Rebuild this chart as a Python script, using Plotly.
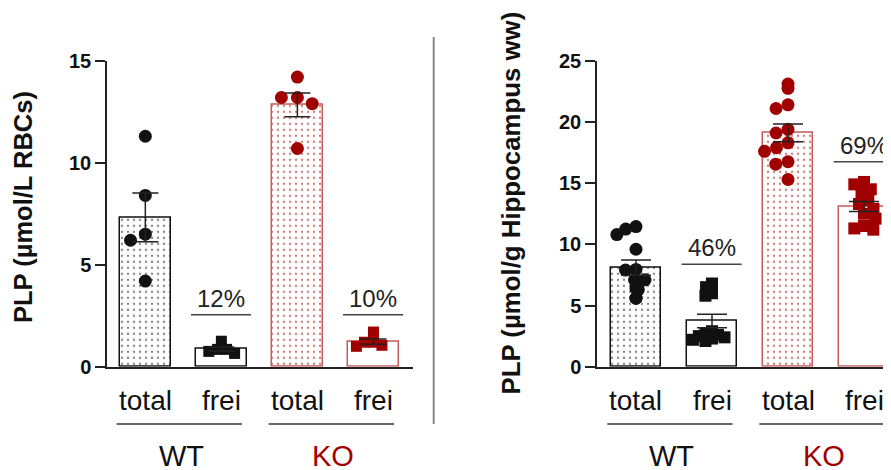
import numpy as np
import plotly.graph_objects as go

# ---------------- data ----------------
categories = ["total", "frei", "total", "frei"]
groups = ["WT", "KO"]

# Left panel: PLP in erythrocytes (µmol/L RBCs)
rbc_wt_total = [11.3, 8.4, 6.5, 6.2, 4.2]
rbc_wt_free = [1.25, 0.85, 0.65, 0.75, 0.85]
rbc_ko_total = [14.2, 13.2, 13.2, 12.9, 10.7]
rbc_ko_free = [1.7, 1.2, 1.0, 1.05, 1.2]
rbc_pct = ["12%", "10%"]
rbc_ticks = [0, 5, 10, 15]

# Right panel: PLP in hippocampus (µmol/g ww)
hip_wt_total = [11.45, 11.25, 10.8, 9.6, 7.95, 7.9, 7.1, 7.1, 6.4, 6.3, 5.6, 5.6]
hip_wt_free = [6.8, 6.5, 6.0, 5.8, 2.9, 2.7, 2.6, 2.5, 2.4, 2.3, 2.2, 2.1]
hip_ko_total = [23.1, 22.75, 21.4, 21.1, 19.4, 19.1, 18.3, 17.9, 17.6, 16.75, 16.55, 15.3]
hip_ko_free = [15.1, 14.9, 14.5, 14.2, 13.6, 13.3, 12.9, 12.5, 12.1, 11.5, 11.3, 11.2]
hip_pct = ["46%", "69%"]
hip_ticks = [0, 5, 10, 15, 20, 25]

# ---------------- style ----------------
PAGE_W, PAGE_H = 891, 470
OFF = 8                      # default page (body) margin of the browser
W, H = PAGE_W - OFF, PAGE_H - OFF
FONT = "Liberation Sans, Arial, Helvetica, sans-serif"
RED = "#a00000"
RED_EDGE = "#c45a5a"
BLACK = "#111111"
PX_PER_CAT = 76.0


def py(p):
    """page pixel row -> paper y"""
    return 1 - (p - OFF) / H


def px(p):
    """page pixel column -> paper x"""
    return (p - OFF) / W


def swarm(values, yscale, d):
    """Simple beeswarm: horizontal pixel offsets so markers do not overlap."""
    vals = np.asarray(values, dtype=float)
    order = np.argsort(-vals, kind="stable")
    placed = []
    offs = np.zeros(len(vals))
    for i in order:
        y = vals[i] * yscale
        cands = [0.0]
        for (qx, qy) in placed:
            dy = abs(qy - y)
            if dy < d:
                dx = np.sqrt(d * d - dy * dy)
                cands += [qx + dx, qx - dx]
        cands = sorted(set(round(c, 6) for c in cands), key=lambda c: (abs(c), c))
        for c in cands:
            if all((c - qx) ** 2 + (y - qy) ** 2 >= d * d - 1e-6 for qx, qy in placed):
                offs[i] = c
                placed.append((c, y))
                break
    return offs


def sem(v):
    v = np.asarray(v, dtype=float)
    return v.std(ddof=1) / np.sqrt(len(v))


fig = go.Figure()
annotations = []
shapes = []


def add_panel(axr, ayr, sets, yscale, pct, pct_y, cap_w, msizes, dists):
    colors = [BLACK, BLACK, RED, RED]
    edges = [BLACK, BLACK, RED_EDGE, RED_EDGE]
    symbols = ["circle", "square", "circle", "square"]
    means = [float(np.mean(s)) for s in sets]
    # bars
    for i, s in enumerate(sets):
        patterned = (i % 2 == 0)
        marker = dict(color="white", line=dict(color=edges[i], width=1.5))
        if patterned:
            marker["pattern"] = dict(shape=".", fgcolor=colors[i], bgcolor="white",
                                     size=6, solidity=0.12)
        fig.add_trace(go.Bar(x=[i], y=[means[i]], width=0.67, marker=marker,
                             xaxis=axr, yaxis=ayr, showlegend=False,
                             hoverinfo="skip"))
    # points
    for i, s in enumerate(sets):
        offs = swarm(s, yscale, dists[i]) / PX_PER_CAT
        fig.add_trace(go.Scatter(x=i + offs, y=s, mode="markers",
                                 marker=dict(symbol=symbols[i], size=msizes[i],
                                             color=colors[i], line=dict(width=0)),
                                 xaxis=axr, yaxis=ayr, showlegend=False,
                                 cliponaxis=False))
    # error bars (SEM)
    for i, s in enumerate(sets):
        fig.add_trace(go.Scatter(x=[i], y=[means[i]], mode="markers",
                                 marker=dict(size=1, opacity=0),
                                 error_y=dict(type="data", array=[sem(s)],
                                              width=cap_w, thickness=1.5,
                                              color="#222222"),
                                 xaxis=axr, yaxis=ayr, showlegend=False,
                                 cliponaxis=False))
    # category labels
    for i, c in enumerate(categories):
        annotations.append(dict(x=i, y=py(400), xref=axr, yref="paper", text=c,
                                showarrow=False, yanchor="middle",
                                font=dict(family=FONT, size=28, color="#111")))
    # group lines + labels
    for g, name in enumerate(groups):
        x0 = 2 * g - 0.377
        x1 = 2 * g + 1.27
        shapes.append(dict(type="line", xref=axr, yref="paper", x0=x0, x1=x1,
                           y0=py(424), y1=py(424),
                           line=dict(color="#666666", width=2)))
        annotations.append(dict(x=2 * g + 0.47, y=py(456), xref=axr, yref="paper",
                                text=name, showarrow=False, yanchor="middle",
                                font=dict(family=FONT, size=29,
                                          color="#111" if g == 0 else RED)))
    # percentage brackets
    for g, t in enumerate(pct):
        xc = 2 * g + 1
        shapes.append(dict(type="line", xref=axr, yref=ayr, x0=xc - 0.4, x1=xc + 0.39,
                           y0=pct_y[g], y1=pct_y[g],
                           line=dict(color="#444444", width=1.5)))
        annotations.append(dict(x=xc, y=pct_y[g], xref=axr, yref=ayr, text=t,
                                showarrow=False, yanchor="bottom", yshift=1,
                                font=dict(family=FONT, size=24, color="#222")))


add_panel("x", "y",
          [rbc_wt_total, rbc_wt_free, rbc_ko_total, rbc_ko_free],
          20.4, rbc_pct, [2.55, 2.55], 13, [13, 11, 13, 11], [16, 9, 16, 9])
add_panel("x2", "y2",
          [hip_wt_total, hip_wt_free, hip_ko_total, hip_ko_free],
          12.23, hip_pct, [8.37, 16.74], 15, [13, 12, 13, 12], [10.5, 7, 12.5, 10])

# y-axis titles
annotations.append(dict(x=px(23), y=py(207), xref="paper", yref="paper",
                        text="PLP (µmol/L RBCs)", textangle=-90, showarrow=False,
                        xanchor="center", yanchor="middle",
                        font=dict(family=FONT, size=25.5, color="#111", weight="bold")))
annotations.append(dict(x=px(510), y=py(396), xref="paper", yref="paper",
                        text="PLP (µmol/g Hippocampus ww)", textangle=-90, showarrow=False,
                        xanchor="center", yanchor="bottom",
                        font=dict(family=FONT, size=25.8, color="#111", weight="bold")))

# divider
shapes.append(dict(type="line", xref="paper", yref="paper", x0=px(433.7), x1=px(433.7),
                   y0=py(37), y1=py(424), line=dict(color="#888888", width=2)))

ydom = [py(366.7), py(60.8)]
axis_common = dict(showline=True, linecolor="#222", linewidth=1.5,
                   showgrid=False, zeroline=False, automargin=False)
yaxis_common = dict(axis_common, ticks="outside", ticklen=10, tickwidth=1.5,
                    tickcolor="#222",
                    tickfont=dict(family=FONT, size=20, color="#111", weight="bold"))

fig.update_layout(
    width=W, height=H,
    margin=dict(l=0, r=0, t=0, b=0, pad=0, autoexpand=False),
    paper_bgcolor="white", plot_bgcolor="white",
    showlegend=False,
    bargap=0,
    xaxis=dict(axis_common, domain=[px(107), px(413)], range=[-0.504, 3.52],
               showticklabels=False, ticks="", fixedrange=True),
    yaxis=dict(yaxis_common, domain=ydom, range=[0, 15], tickvals=rbc_ticks,
               fixedrange=True),
    xaxis2=dict(axis_common, domain=[px(597), 1.0], range=[-0.513, 3.355],
                showticklabels=False, ticks="", anchor="y2", fixedrange=True),
    yaxis2=dict(yaxis_common, domain=ydom, range=[0, 25], tickvals=hip_ticks,
                anchor="x2", fixedrange=True),
    annotations=annotations,
    shapes=shapes,
)

fig.write_html("out.html", config={"displayModeBar": False})
